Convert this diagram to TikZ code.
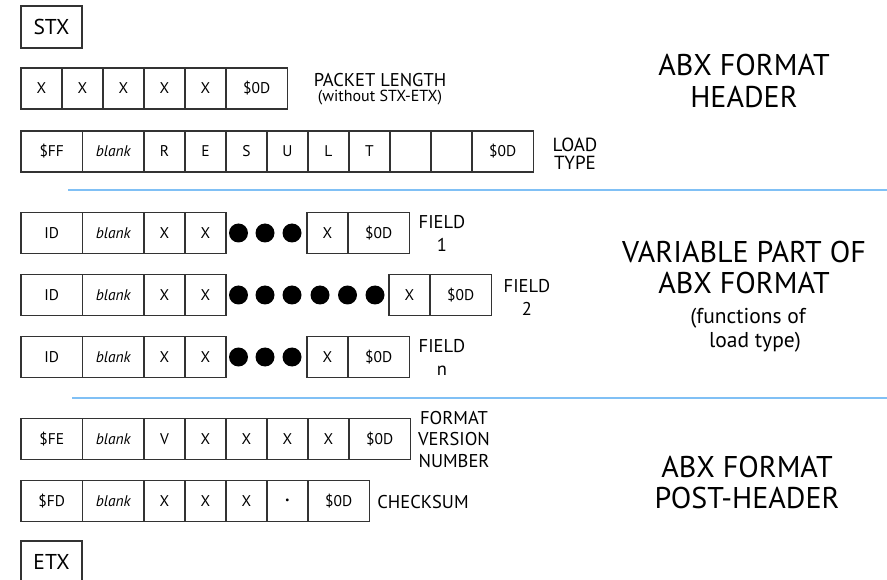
\documentclass[tikz,border=0pt]{standalone}
\usepackage{fontspec}
\setmainfont{PT Sans}
\definecolor{ruleblue}{RGB}{128,192,245}
\begin{document}
\begin{tikzpicture}[x=1pt,y=-1pt]
\tikzset{cell/.style = {shape=rectangle,draw=black!80,line width=1.1pt,minimum width=41pt,minimum height=41pt,inner sep=0pt,font=\fontsize{15.5}{15.5}\selectfont}}
\tikzset{wide/.style = {cell,minimum width=61.5pt}}
\tikzset{dot/.style = {shape=circle,fill=black,minimum size=19pt,inner sep=0pt}}
\tikzset{tag/.style = {align=center,inner sep=0pt,font=\fontsize{18.5}{23}\selectfont}}
\tikzset{heading/.style = {align=center,inner sep=0pt,font=\fontsize{30}{31.5}\selectfont}}
\tikzset{divider/.style = {draw=ruleblue,line width=2pt}}
\useasboundingbox (0,0) rectangle (887,580);
% start of packet
\node[cell,minimum width=61pt,minimum height=42pt,font=\fontsize{21.5}{21.5}\selectfont] (stx) at (51.5,27) {STX};
% packet length
\node[cell] (lenA) at (41.5,88.5) {X};
\node[cell] (lenB) at (82.5,88.5) {X};
\node[cell] (lenC) at (123.5,88.5) {X};
\node[cell] (lenD) at (164.5,88.5) {X};
\node[cell] (lenE) at (205.5,88.5) {X};
\node[wide] (lenEnd) at (256.75,88.5) {\$0D};
\node[tag] (lenTxt) at (380,80) {PACKET LENGTH};
\node[tag,font=\fontsize{16}{16}\selectfont] (lenNote) at (380,98) {(without STX-ETX)};
% load type
\node[wide] (ltId) at (51.75,151.5) {\$FF};
\node[wide] (ltBlank) at (113.25,151.5) {\itshape blank};
\node[cell] (ltR) at (164.5,151.5) {R};
\node[cell] (ltE) at (205.5,151.5) {E};
\node[cell] (ltS) at (246.5,151.5) {S};
\node[cell] (ltU) at (287.5,151.5) {U};
\node[cell] (ltL) at (328.5,151.5) {L};
\node[cell] (ltT) at (369.5,151.5) {T};
\node[cell] (ltF) at (410.5,151.5) {};
\node[cell] (ltG) at (451.5,151.5) {};
\node[wide] (ltEnd) at (502.75,151.5) {\$0D};
\node[tag,font=\fontsize{19}{17.5}\selectfont] (ltTxt) at (575,153.5) {LOAD\\TYPE};
\node[heading] (hdTxt) at (744,81) {ABX FORMAT\\HEADER};
\draw[divider] (68,190) -- (887,190);
% field 1
\node[wide] (faId) at (51.75,233) {ID};
\node[wide] (faBlank) at (113.25,233) {\itshape blank};
\node[cell] (faA) at (164.5,233) {X};
\node[cell] (faB) at (205.5,233) {X};
\node[dot] (faD1) at (238.5,233) {};
\node[dot] (faD2) at (265,233) {};
\node[dot] (faD3) at (292,233) {};
\node[cell] (faC) at (327.5,233) {X};
\node[wide] (faEnd) at (378.75,233) {\$0D};
\node[tag] (faTxt) at (442,233.5) {FIELD\\1};
% field 2
\node[wide] (fbId) at (51.75,295) {ID};
\node[wide] (fbBlank) at (113.25,295) {\itshape blank};
\node[cell] (fbA) at (164.5,295) {X};
\node[cell] (fbB) at (205.5,295) {X};
\node[dot] (fbD1) at (238.5,295) {};
\node[dot] (fbD2) at (265,295) {};
\node[dot] (fbD3) at (292,295) {};
\node[dot] (fbD4) at (320,295) {};
\node[dot] (fbD5) at (347.5,295) {};
\node[dot] (fbD6) at (375,295) {};
\node[cell] (fbC) at (409.5,295) {X};
\node[wide] (fbEnd) at (460.75,295) {\$0D};
\node[tag] (fbTxt) at (527,297) {FIELD\\2};
% field n
\node[wide] (fnId) at (51.75,357) {ID};
\node[wide] (fnBlank) at (113.25,357) {\itshape blank};
\node[cell] (fnA) at (164.5,357) {X};
\node[cell] (fnB) at (205.5,357) {X};
\node[dot] (fnD1) at (238.5,357) {};
\node[dot] (fnD2) at (265,357) {};
\node[dot] (fnD3) at (292,357) {};
\node[cell] (fnC) at (327.5,357) {X};
\node[wide] (fnEnd) at (378.75,357) {\$0D};
\node[tag] (fnTxt) at (442,357.5) {FIELD\\n};
\node[heading] (varTxt) at (744,267.5) {VARIABLE PART OF\\ABX FORMAT};
\node[tag,font=\fontsize{21.5}{24}\selectfont] (varNote) at (748,330) {(functions of\\\hspace*{14pt}load type)};
\draw[divider] (72,398) -- (887,398);
% format version
\node[wide] (fvId) at (51.75,439) {\$FE};
\node[wide] (fvBlank) at (113.25,439) {\itshape blank};
\node[cell] (fvV) at (164.5,439) {V};
\node[cell] (fvA) at (205.5,439) {X};
\node[cell] (fvB) at (246.5,439) {X};
\node[cell] (fvC) at (287.5,439) {X};
\node[cell] (fvD) at (328.5,439) {X};
\node[wide] (fvEnd) at (379.75,439) {\$0D};
\node[tag,font=\fontsize{18.5}{21.5}\selectfont] (fvTxt) at (454,439.5) {FORMAT\\VERSION\\NUMBER};
% checksum
\node[wide] (csId) at (51.75,501) {\$FD};
\node[wide] (csBlank) at (113.25,501) {\itshape blank};
\node[cell] (csA) at (164.5,501) {X};
\node[cell] (csB) at (205.5,501) {X};
\node[cell] (csC) at (246.5,501) {X};
\node[cell,font=\fontsize{10}{10}\selectfont] (csDot) at (287.5,501) {\textbullet};
\node[wide] (csEnd) at (338.75,501) {\$0D};
\node[tag] (csTxt) at (423,502) {CHECKSUM};
\node[heading] (postTxt) at (747,482.5) {ABX FORMAT\\POST-HEADER};
% end of packet
\node[cell,minimum width=61pt,minimum height=42pt,font=\fontsize{21.5}{21.5}\selectfont] (etx) at (51.5,562) {ETX};
\end{tikzpicture}
\end{document}
